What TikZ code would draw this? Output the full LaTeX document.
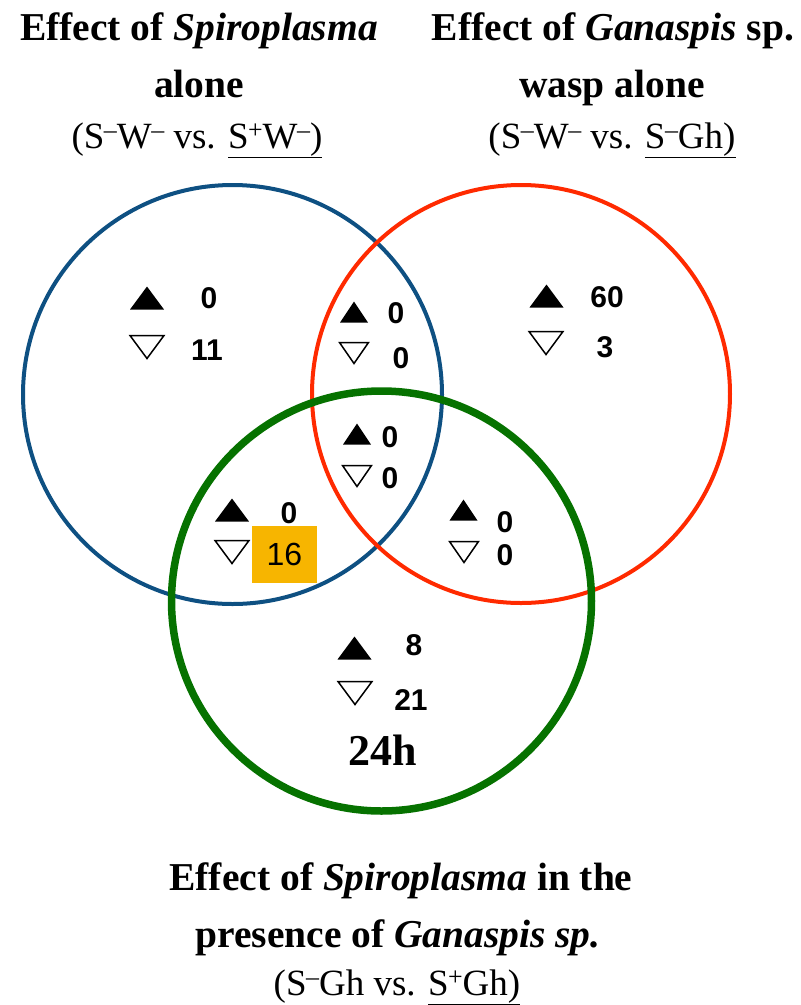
\documentclass[tikz,border=0pt]{standalone}
\usepackage{fontspec}
\setmainfont{Liberation Serif}
\newfontfamily\hv{Liberation Sans}
\definecolor{vblue}{HTML}{0E5082}
\definecolor{vred}{HTML}{FF2A00}
\definecolor{vgreen}{HTML}{067200}
\definecolor{vorange}{HTML}{F7B500}
\tikzset{
  titleline/.style={anchor=base, inner sep=0pt, font=\fontsize{39.5}{46}\selectfont\bfseries},
  subline/.style={anchor=base, inner sep=0pt, font=\fontsize{37}{46}\selectfont},
  num/.style={anchor=base, inner sep=0pt, font=\hv\bfseries\fontsize{30}{36}\selectfont},
  upL/.pic={\fill (-17,11.5) -- (17,11.5) -- (0,-11.5) -- cycle;},
  dnL/.pic={\draw[line width=1.5pt, line join=miter] (-17,-11.5) -- (17,-11.5) -- (0,11.5) -- cycle;},
  upS/.pic={\fill (-14,10.5) -- (14,10.5) -- (0,-10.5) -- cycle;},
  dnS/.pic={\draw[line width=1.5pt, line join=miter] (-14.5,-10.5) -- (14.5,-10.5) -- (0,10.5) -- cycle;},
}
\newcommand{\supm}{\kern-0.5pt\textsuperscript{–}\kern-0.5pt}
\newcommand{\supp}{\kern-0.5pt\textsuperscript{+}\kern-0.5pt}
\begin{document}
\begin{tikzpicture}[x=1pt,y=-1pt]
\useasboundingbox (0,0) rectangle (801,1005);

% circles
\draw[vblue, line width=4pt] (232.5,394.5) circle[radius=209.5pt];
\draw[vred, line width=4pt] (521,394) circle[radius=209pt];
\draw[vgreen, line width=7.5pt] (381.5,601) circle[radius=210pt];

% titles
\node[titleline] (t1a) at (199,40) {Effect of \textit{Spiroplasma}};
\node[titleline] (t1b) at (199,97) {alone};
\node[subline] (t1c) at (197,148) {(S\supm W\supm{} vs. \underline{S\supp W\supm)}};

\node[titleline] (t2a) at (613,40) {Effect of \textit{Ganaspis} sp.};
\node[titleline] (t2b) at (612,97) {wasp alone};
\node[subline] (t2c) at (612,148) {(S\supm W\supm{} vs. \underline{S\supm Gh)}};

\node[titleline] (t3a) at (401,890) {Effect of \textit{Spiroplasma} in the};
\node[titleline] (t3b) at (398,947) {presence of \textit{Ganaspis sp.}};
\node[subline] (t3c) at (397,995) {(S\supm Gh vs. \underline{S\supp Gh)}};

% region: blue only
\pic at (147,298) {upL};
\pic at (147,347) {dnL};
\node[num] (b1) at (209,308) {0};
\node[num] (b2) at (207,360) {11};

% region: blue & red
\pic at (354,312) {upS};
\pic at (354,353) {dnS};
\node[num] (br1) at (396,323) {0};
\node[num] (br2) at (401,368) {0};

% region: all three
\pic at (357,434) {upS};
\pic at (357,476) {dnS};
\node[num] (all1) at (390,447) {0};
\node[num] (all2) at (390,488) {0};

% region: blue & green
\pic at (232,510) {upL};
\pic at (232,552) {dnL};
\node[num] (bg1) at (289,523) {0};
\node[fill=vorange, minimum width=65pt, minimum height=57pt, inner sep=0pt,
      font=\hv\fontsize{32}{36}\selectfont] (bg2) at (284.5,554.5) {16};

% region: red & green
\pic at (463.5,510) {upS};
\pic at (464,552) {dnS};
\node[num] (rg1) at (505,532) {0};
\node[num] (rg2) at (505,565) {0};

% region: red only
\pic at (546.5,296) {upL};
\pic at (546,343) {dnL};
\node[num] (r1) at (607,307) {60};
\node[num] (r2) at (605,357) {3};

% region: green only
\pic at (354.5,648) {upL};
\pic at (355,693) {dnL};
\node[num] (g1) at (414,655) {8};
\node[num] (g2) at (411,710) {21};
\node[anchor=base, inner sep=0pt, font=\fontsize{44}{50}\selectfont\bfseries] (time) at (383,765) {24h};
\end{tikzpicture}
\end{document}
